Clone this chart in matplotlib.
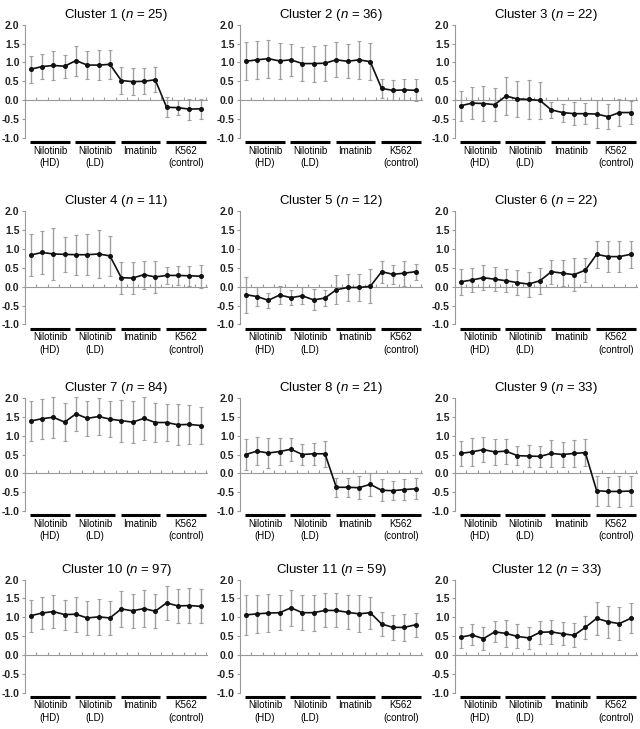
import numpy as np
import matplotlib
matplotlib.use("Agg")
import matplotlib.pyplot as plt

plt.rcParams['font.family'] = ['Liberation Sans', 'DejaVu Sans']
plt.rcParams['mathtext.fontset'] = 'custom'
plt.rcParams['mathtext.it'] = 'Liberation Sans:italic'
plt.rcParams['mathtext.rm'] = 'Liberation Sans'

cluster_n = [25, 36, 22, 11, 12, 22, 84, 21, 33, 97, 59, 33]
groups = ['Nilotinib\n(HD)', 'Nilotinib\n(LD)', 'Imatinib', 'K562\n(control)']

# mean expression per time point (4 groups x 4 points)
means = [
    [0.82, 0.89, 0.92, 0.90, 1.05, 0.93, 0.93, 0.95, 0.52, 0.49, 0.50, 0.54, -0.19, -0.20, -0.24, -0.23],
    [1.03, 1.07, 1.10, 1.04, 1.07, 0.97, 0.97, 0.98, 1.07, 1.03, 1.07, 1.02, 0.31, 0.26, 0.27, 0.26],
    [-0.15, -0.08, -0.09, -0.12, 0.11, 0.03, 0.02, -0.01, -0.26, -0.33, -0.36, -0.36, -0.37, -0.44, -0.33, -0.33],
    [0.84, 0.91, 0.87, 0.86, 0.85, 0.85, 0.87, 0.82, 0.24, 0.23, 0.32, 0.26, 0.30, 0.30, 0.29, 0.28],
    [-0.21, -0.26, -0.36, -0.22, -0.29, -0.24, -0.35, -0.30, -0.08, -0.02, -0.02, 0.01, 0.40, 0.33, 0.36, 0.40],
    [0.13, 0.18, 0.24, 0.20, 0.16, 0.11, 0.07, 0.16, 0.40, 0.36, 0.32, 0.44, 0.86, 0.80, 0.80, 0.86],
    [1.39, 1.45, 1.49, 1.36, 1.58, 1.46, 1.51, 1.44, 1.40, 1.36, 1.46, 1.35, 1.35, 1.29, 1.30, 1.27],
    [0.50, 0.59, 0.54, 0.58, 0.64, 0.50, 0.52, 0.52, -0.37, -0.37, -0.38, -0.29, -0.45, -0.46, -0.43, -0.41],
    [0.53, 0.57, 0.63, 0.57, 0.59, 0.47, 0.46, 0.45, 0.53, 0.50, 0.53, 0.55, -0.46, -0.48, -0.48, -0.47],
    [1.04, 1.11, 1.15, 1.07, 1.08, 0.98, 1.01, 0.98, 1.22, 1.17, 1.23, 1.16, 1.38, 1.30, 1.31, 1.29],
    [1.06, 1.09, 1.11, 1.12, 1.25, 1.12, 1.12, 1.18, 1.18, 1.13, 1.09, 1.12, 0.82, 0.73, 0.73, 0.80],
    [0.47, 0.53, 0.43, 0.61, 0.57, 0.49, 0.45, 0.60, 0.61, 0.56, 0.52, 0.73, 0.97, 0.88, 0.83, 0.97],
]

# standard deviations (error bars)
sds = [
    [0.36, 0.33, 0.38, 0.30, 0.40, 0.37, 0.40, 0.38, 0.36, 0.35, 0.35, 0.33, 0.26, 0.20, 0.28, 0.27],
    [0.50, 0.50, 0.50, 0.48, 0.43, 0.45, 0.48, 0.48, 0.46, 0.45, 0.50, 0.49, 0.25, 0.27, 0.28, 0.29],
    [0.40, 0.43, 0.46, 0.43, 0.51, 0.48, 0.51, 0.50, 0.22, 0.24, 0.30, 0.28, 0.36, 0.33, 0.37, 0.30],
    [0.55, 0.57, 0.68, 0.47, 0.53, 0.55, 0.64, 0.53, 0.43, 0.42, 0.37, 0.42, 0.23, 0.25, 0.26, 0.31],
    [0.48, 0.25, 0.20, 0.25, 0.20, 0.22, 0.28, 0.21, 0.38, 0.35, 0.36, 0.45, 0.29, 0.25, 0.33, 0.21],
    [0.34, 0.33, 0.33, 0.32, 0.31, 0.33, 0.33, 0.34, 0.32, 0.34, 0.44, 0.31, 0.36, 0.42, 0.41, 0.35],
    [0.54, 0.53, 0.54, 0.51, 0.45, 0.47, 0.49, 0.47, 0.56, 0.55, 0.58, 0.53, 0.50, 0.54, 0.52, 0.50],
    [0.40, 0.37, 0.40, 0.36, 0.30, 0.29, 0.29, 0.34, 0.26, 0.25, 0.31, 0.30, 0.29, 0.26, 0.29, 0.28],
    [0.34, 0.37, 0.34, 0.35, 0.33, 0.26, 0.29, 0.28, 0.35, 0.34, 0.36, 0.35, 0.40, 0.38, 0.40, 0.40],
    [0.42, 0.43, 0.44, 0.40, 0.46, 0.44, 0.48, 0.46, 0.47, 0.45, 0.48, 0.45, 0.45, 0.46, 0.47, 0.45],
    [0.52, 0.50, 0.51, 0.46, 0.47, 0.46, 0.48, 0.45, 0.45, 0.45, 0.49, 0.42, 0.32, 0.33, 0.35, 0.32],
    [0.28, 0.28, 0.30, 0.28, 0.35, 0.32, 0.30, 0.31, 0.31, 0.30, 0.32, 0.30, 0.43, 0.43, 0.43, 0.40],
]

fig = plt.figure(figsize=(6.4, 7.29), dpi=100)

lefts = [0.039, 0.375, 0.711]
bottoms = [0.811, 0.555, 0.299, 0.050]
w, h = 0.285, 0.155

x = np.arange(16)
for k in range(12):
    r, c = divmod(k, 3)
    ax = fig.add_axes([lefts[c], bottoms[r], w, h])
    ax.errorbar(x, means[k], yerr=sds[k], fmt='none', ecolor='#a0a0a0',
                elinewidth=1.0, capsize=1.5, capthick=0.8, clip_on=False, zorder=2)
    ax.plot(x, means[k], color='#111111', lw=1.2, marker='o', ms=2.6, zorder=3, clip_on=False)

    ax.set_xlim(-0.4, 15.6)
    ax.set_ylim(-1.0, 2.0)
    ax.set_yticks([-1.0, -0.5, 0.0, 0.5, 1.0, 1.5, 2.0])
    ax.set_yticklabels([f'{v:.1f}' for v in ax.get_yticks()], fontweight='bold')
    ax.tick_params(axis='y', length=2, width=0.8, color='#999999', labelsize=7.5, pad=2,
                   labelcolor='#222222')

    # zero line with small upward ticks
    ax.spines['bottom'].set_position(('data', 0))
    ax.spines['bottom'].set_color('#999999')
    ax.spines['left'].set_color('#999999')
    ax.spines['top'].set_visible(False)
    ax.spines['right'].set_visible(False)
    ax.set_xticks(np.arange(-0.5, 16, 1))
    ax.tick_params(axis='x', direction='in', length=2, width=0.8, color='#999999',
                   labelbottom=False)

    for g, lab in enumerate(groups):
        ax.plot([4 * g - 0.05, 4 * g + 3.45], [-1.11, -1.11], color='black',
                lw=2.2, solid_capstyle='butt', clip_on=False)
        ax.text(4 * g + 1.7, -1.21, lab, ha='center', va='top', fontsize=7,
                linespacing=1.3)

    ax.set_title(f'Cluster {k + 1} ($n$ = {cluster_n[k]})', fontsize=9.5, pad=5)

fig.savefig('out.png', dpi=100)
